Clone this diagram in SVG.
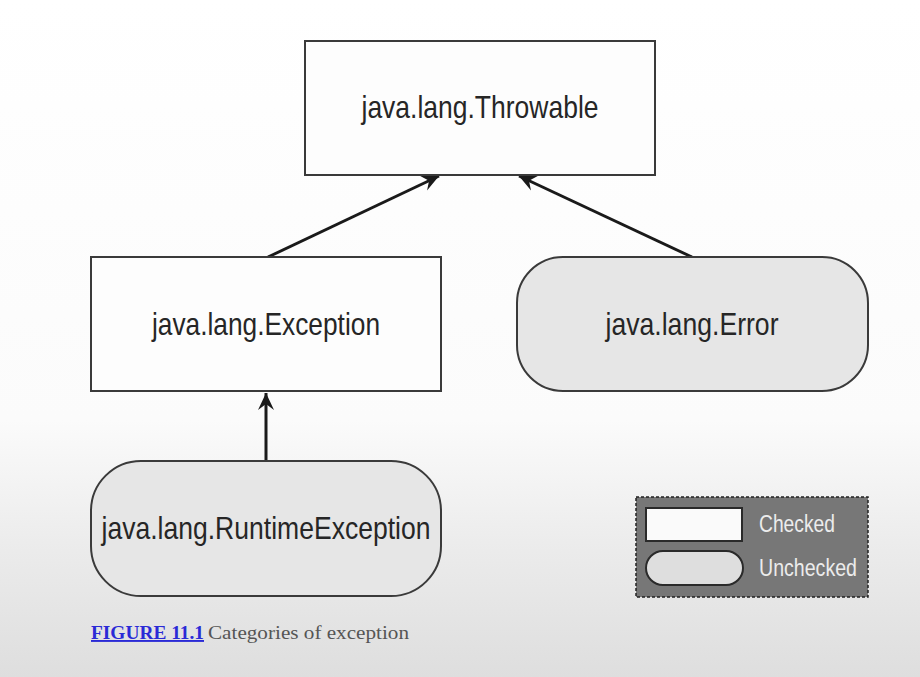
<svg xmlns="http://www.w3.org/2000/svg" width="920" height="677" viewBox="0 0 920 677">
<defs>
<linearGradient id="bg" x1="0" y1="0" x2="0" y2="1">
<stop offset="0" stop-color="#ffffff"/>
<stop offset="0.62" stop-color="#fbfbfb"/>
<stop offset="0.8" stop-color="#ececec"/>
<stop offset="1" stop-color="#dedede"/>
</linearGradient>
<marker id="arr" viewBox="-18 -9 20 18" refX="0" refY="0" markerWidth="20" markerHeight="18" markerUnits="userSpaceOnUse" orient="auto">
<path d="M0,0 L-17,-8 L-11,0 L-17,8 Z" fill="#1a1a1a"/>
</marker>
<style>
.box{fill:#fdfdfd;stroke:#3a3a3a;stroke-width:2}
.rnd{fill:#e6e6e6;stroke:#3a3a3a;stroke-width:2}
.lbl{font-family:"Liberation Sans Narrow","Liberation Sans",Arial,sans-serif;font-size:32px;fill:#262626;text-anchor:middle}
.edge{stroke:#1a1a1a;stroke-width:3;fill:none;marker-end:url(#arr)}
.leg{font-family:"Liberation Sans Narrow","Liberation Sans",Arial,sans-serif;font-size:23px;fill:#ececec}
.cap{font-family:"Liberation Serif","DejaVu Serif",serif;font-size:19px}
</style>
</defs>
<rect x="0" y="0" width="920" height="677" fill="url(#bg)"/>
<g id="connectors">
<line class="edge" x1="268" y1="257" x2="439" y2="176"/>
<line class="edge" x1="692" y1="257" x2="519" y2="176"/>
<line class="edge" x1="266" y1="461" x2="266" y2="393"/>
</g>
<g id="throwable">
<rect class="box" x="305" y="41" width="350" height="134"/>
<text class="lbl" x="480" y="118" textLength="237" lengthAdjust="spacingAndGlyphs">java.lang.Throwable</text>
</g>
<g id="exception">
<rect class="box" x="91" y="257" width="350" height="134"/>
<text class="lbl" x="266" y="335" textLength="228" lengthAdjust="spacingAndGlyphs">java.lang.Exception</text>
</g>
<g id="error">
<rect class="rnd" x="517" y="257" width="351" height="134" rx="46" ry="46"/>
<text class="lbl" x="692" y="335" textLength="173" lengthAdjust="spacingAndGlyphs">java.lang.Error</text>
</g>
<g id="runtime">
<rect class="rnd" x="91" y="461" width="350" height="135" rx="50" ry="50"/>
<text class="lbl" x="266" y="539" textLength="329" lengthAdjust="spacingAndGlyphs">java.lang.RuntimeException</text>
</g>
<g id="legend">
<rect x="636" y="497" width="232" height="100" fill="#777777" stroke="#222" stroke-width="1.5" stroke-dasharray="3,2"/>
<rect x="646" y="508" width="96" height="33" fill="#fafafa" stroke="#2a2a2a" stroke-width="2"/>
<rect x="646" y="551" width="97" height="34" rx="17" ry="17" fill="#dedede" stroke="#2a2a2a" stroke-width="2"/>
<text class="leg" x="759" y="532" textLength="76" lengthAdjust="spacingAndGlyphs">Checked</text>
<text class="leg" x="759" y="576" textLength="98" lengthAdjust="spacingAndGlyphs">Unchecked</text>
</g>
<g id="caption">
<text class="cap" x="91" y="639" font-weight="bold" fill="#2a2ad6" text-decoration="underline" textLength="113" lengthAdjust="spacingAndGlyphs">FIGURE 11.1</text>
<text class="cap" x="208" y="639" fill="#555555" textLength="201" lengthAdjust="spacingAndGlyphs">Categories of exception</text>
</g>
</svg>
